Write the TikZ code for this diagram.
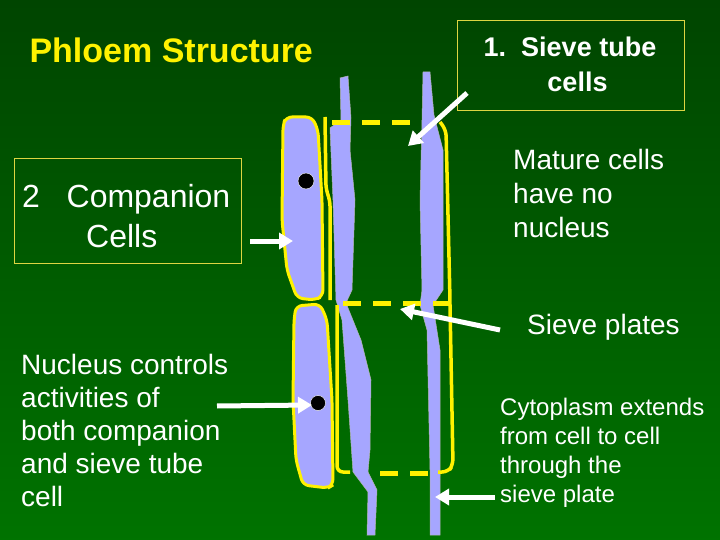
\documentclass[tikz,border=0pt]{standalone}
\usetikzlibrary{arrows.meta}
\usepackage{fontspec}
\setmainfont{Liberation Sans}
\begin{document}
\begin{tikzpicture}[x=1pt,y=-1pt,
  lbl/.style={text=white,align=left,anchor=north west,inner sep=0pt},
  arr/.style={white,line width=5pt,-{Triangle[length=14pt,width=16pt]}},
  cell/.style={fill=blue!35!white,draw=yellow,line width=3pt,rounded corners=6pt},
  strip/.style={fill=blue!35!white,draw=gray!60,line width=0.5pt},
  wall/.style={yellow,line width=3.5pt,rounded corners=6pt},
  dsh/.style={yellow,line width=5pt,dash pattern=on 18pt off 12pt},
  box/.style={draw=yellow!70!gray,line width=0.8pt}]
\shade[top color=green!30!black!90!black,bottom color=green!45!black] (0,0) rectangle (720,540);
\useasboundingbox (0,0) rectangle (720,540);
% strips
\path[strip] (340,78)--(348,76)--(351,118)--(350,150)--(355,200)--(352,290)--(346,303)--(361,340)--(371,380)--(370,450)--(368,472)--(377,490)--(375,535)--(367,535)--(368,492)--(353,472)--(348,400)--(342,320)--(336,300)--(333,200)--(330,128)--(341,120)--cycle;
\path[strip] (423,72)--(430,72)--(434,115)--(443,150)--(443,290)--(433,305)--(440,350)--(440,470)--(440,535)--(430,535)--(430,470)--(427,330)--(420,305)--(422,290)--(420,200)--(422,120)--cycle;
% companion cells
\path[cell] (286,117)--(312,117)--(318,130)--(322,200)--(323,296)--(315,300)--(297,298)--(287,270)--(282,220)--(283,125)--cycle;
\path[cell] (296,306)--(320,304)--(327,320)--(332,400)--(333,485)--(328,488)--(303,485)--(296,460)--(293,400)--(294,320)--cycle;
\node[circle,fill=black,draw=white,line width=0.4pt,minimum size=16pt,inner sep=0pt] (n1) at (306,181) {};
\node[circle,fill=black,draw=white,line width=0.4pt,minimum size=15pt,inner sep=0pt] (n2) at (318,403) {};
% sieve tube walls
\draw[wall] (325,117)--(326,190)--(330,200)--(330,300);
\draw[wall] (440,122)--(446,130)--(450,300)--(450,305);
\draw[wall] (337,305)--(337,472)--(350,472);
\draw[wall] (450,305)--(453,465)--(448,472)--(438,472);
\draw[dsh] (332,123)--(420,123);
\draw[dsh] (343,303)--(450,303);
\draw[dsh] (380,473)--(440,473);
% texts
\node[anchor=west,text=yellow,font=\bfseries\fontsize{34}{40}\selectfont] (t) at (26,50) {Phloem Structure};
\node[box,minimum width=227pt,minimum height=90pt,anchor=north west] (b1) at (457,20) {};
\node[text=white,font=\bfseries\fontsize{27}{35}\selectfont,align=center] (t1) at (570,64) {1.\ \ Sieve tube\\ \ \ cells};
\node[box,minimum width=227pt,minimum height=105pt,anchor=north west] (b2) at (14,158) {};
\node[text=white,font=\fontsize{32}{40}\selectfont,align=left,anchor=north west,inner sep=0pt] (t2) at (22,184) {2\ \ \ Companion\\ \hspace{2.0em}Cells};
\node[lbl,font=\fontsize{28}{34}\selectfont] (t3) at (513,149) {Mature cells\\have no\\nucleus};
\node[lbl,font=\fontsize{28}{34}\selectfont] (t4) at (527,314) {Sieve plates};
\node[lbl,font=\fontsize{28}{33}\selectfont] (t5) at (21,354) {Nucleus controls\\activities of\\both companion\\and sieve tube\\cell};
\node[lbl,font=\fontsize{24}{29}\selectfont] (t6) at (500,398) {Cytoplasm extends\\from cell to cell\\through the\\sieve plate};
% arrows
\coordinate (a1s) at (467,93); \coordinate (a1e) at (408,146);
\coordinate (a2s) at (500,330); \coordinate (a2e) at (400,309);
\coordinate (a3s) at (250,241); \coordinate (a3e) at (293,241);
\coordinate (a4s) at (217,406); \coordinate (a4e) at (312,405);
\coordinate (a5s) at (495,497); \coordinate (a5e) at (435,497);
\draw[arr] (a1s)--(a1e);
\draw[arr] (a2s)--(a2e);
\draw[arr] (a3s)--(a3e);
\draw[arr] (a4s)--(a4e);
\draw[arr] (a5s)--(a5e);
\end{tikzpicture}
\end{document}
